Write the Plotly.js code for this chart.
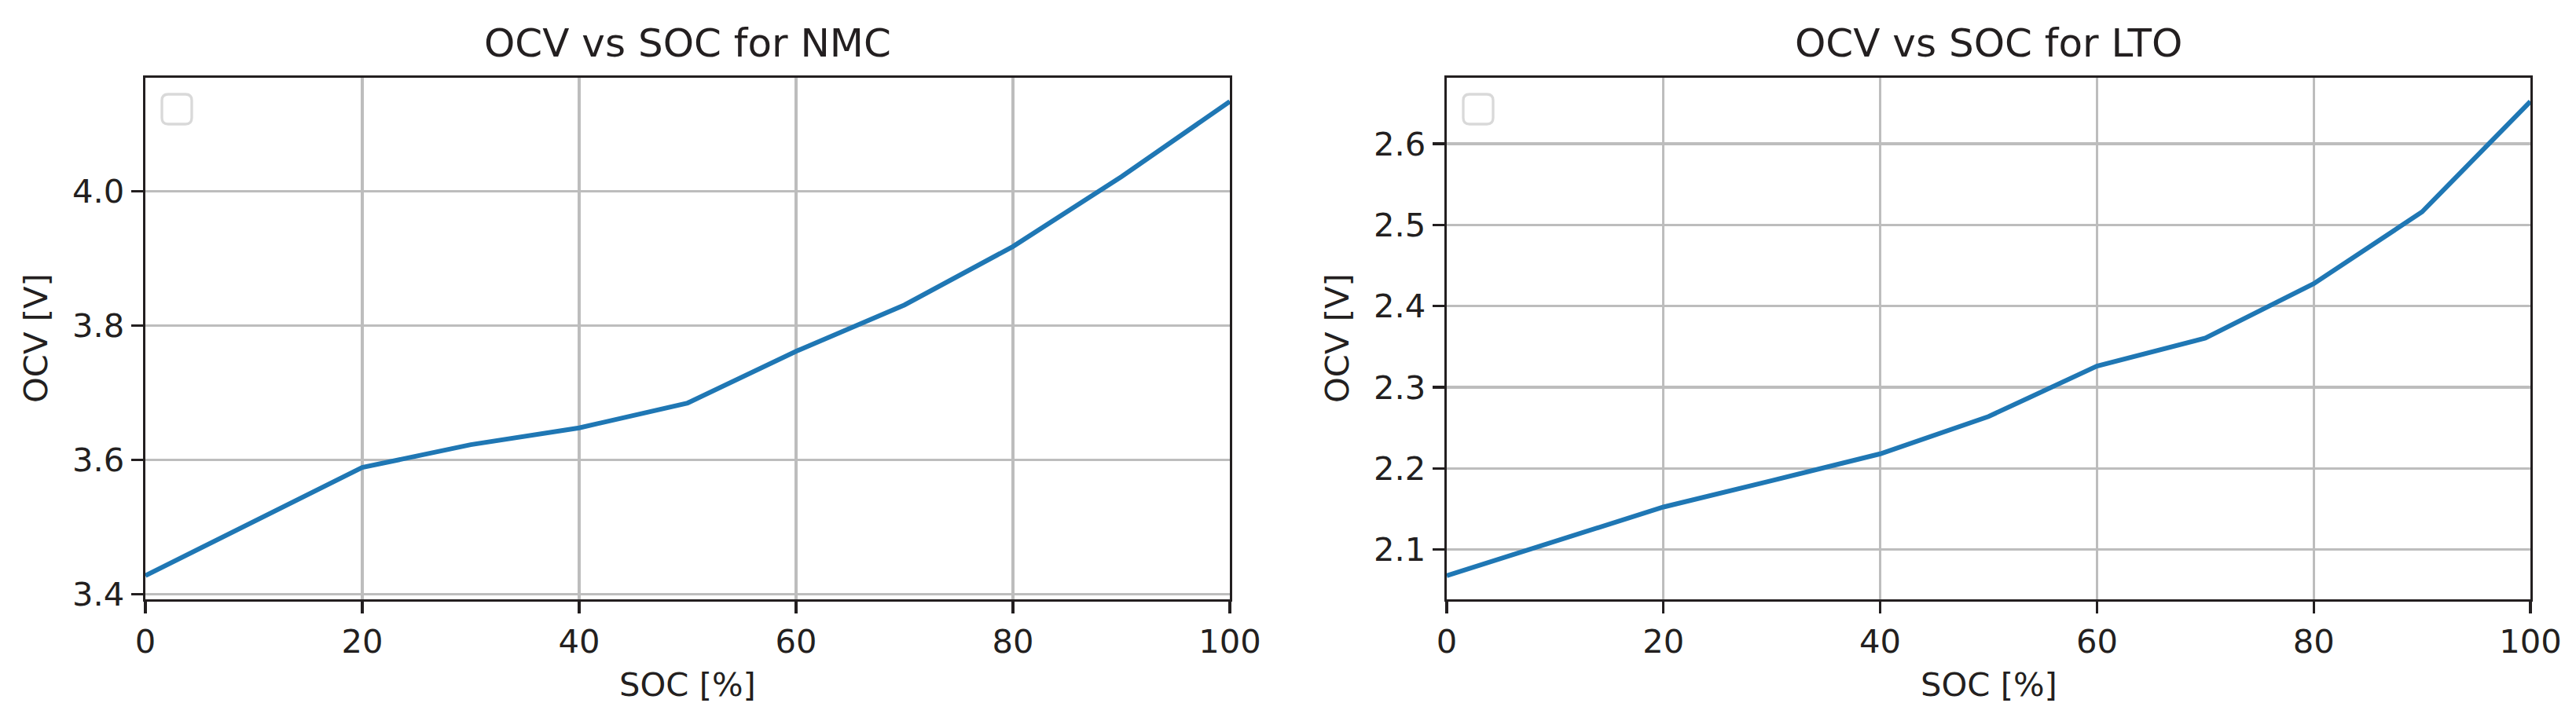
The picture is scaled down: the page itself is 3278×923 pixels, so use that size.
<!DOCTYPE html>
<html>
<head>
<meta charset="utf-8">
<script src="https://cdn.plot.ly/plotly-3.0.1.min.js"></script>
<style>html,body{margin:0;padding:0;background:#fff;}#chart{width:3278px;height:923px;}</style>
</head>
<body>
<div id="chart"></div>
<script>
// ---- data ----
const soc = [0, 10, 20, 30, 40, 50, 60, 70, 80, 90, 100];
const nmcOcv = [3.428, 3.509, 3.589, 3.623, 3.648, 3.685, 3.762, 3.831, 3.918, 4.022, 4.134];
const ltoOcv = [2.068, 2.111, 2.1525, 2.185, 2.218, 2.264, 2.326, 2.3605, 2.4275, 2.516, 2.652];
const titles = ["OCV vs SOC for NMC", "OCV vs SOC for LTO"];
const xLabel = "SOC [%]";
const yLabel = "OCV [V]";
const xTicks = [0, 20, 40, 60, 80, 100];
const nmcTicks = [3.4, 3.6, 3.8, 4.0];
const ltoTicks = [2.1, 2.2, 2.3, 2.4, 2.5, 2.6];

// ---- styling ----
const FONT = "DejaVu Sans";
const INK = "#231f20";
const GRID = "#bdbdbd";
const BLUE = "#1f77b4";
const TICK_SIZE = 41.7;
const TITLE_SIZE = 50;
const W = 3278, H = 923;

function autoRange(v) {
  const lo = Math.min(...v), hi = Math.max(...v), m = 0.05 * (hi - lo);
  return [lo - m, hi + m];
}

function xAxis(domain, anchor) {
  return {
    domain: domain, anchor: anchor, range: [0, 100],
    tickmode: "array", tickvals: xTicks, ticktext: xTicks.map(String),
    showgrid: true, gridcolor: GRID, gridwidth: 3.3,
    showline: true, mirror: true, linecolor: INK, linewidth: 3.3,
    ticks: "outside", ticklen: 15, tickwidth: 3.3, tickcolor: INK,
    tickfont: {family: FONT, size: TICK_SIZE, color: INK},
    zeroline: false, fixedrange: true
  };
}
function yAxis(domain, anchor, ticks, data) {
  return {
    domain: domain, anchor: anchor, range: autoRange(data),
    tickmode: "array", tickvals: ticks, ticktext: ticks.map(t => t.toFixed(1)),
    showgrid: true, gridcolor: GRID, gridwidth: 3.3,
    showline: true, mirror: true, linecolor: INK, linewidth: 3.3,
    ticks: "outside", ticklen: 15, tickwidth: 3.3, tickcolor: INK,
    tickfont: {family: FONT, size: TICK_SIZE, color: INK},
    zeroline: false, fixedrange: true
  };
}

const yDom = [1 - 763 / H, 1 - 99 / H];
const x1Dom = [185 / W, 1565 / W];
const x2Dom = [1841 / W, 3220 / W];

const traces = [
  {x: soc, y: nmcOcv, xaxis: "x", yaxis: "y", type: "scatter", mode: "lines",
   line: {color: BLUE, width: 6}, hoverinfo: "skip"},
  {x: soc, y: ltoOcv, xaxis: "x2", yaxis: "y2", type: "scatter", mode: "lines",
   line: {color: BLUE, width: 6}, hoverinfo: "skip"}
];

function roundRect(l, t, r, b, rad) {
  // pixel coords, y positive upward (t > b)
  return `M${l + rad},${t} L${r - rad},${t} Q${r},${t} ${r},${t - rad} L${r},${b + rad} Q${r},${b} ${r - rad},${b} L${l + rad},${b} Q${l},${b} ${l},${b + rad} L${l},${t - rad} Q${l},${t} ${l + rad},${t} Z`;
}
function emptyLegend(xs, ys) {
  return {
    type: "path", xref: xs + " domain", yref: ys + " domain",
    xsizemode: "pixel", ysizemode: "pixel", xanchor: 0, yanchor: 1,
    path: roundRect(21, -21, 59, -59, 8),
    line: {color: "#d9d9d9", width: 3.3}, fillcolor: "rgba(255,255,255,0.8)", layer: "above"
  };
}

function annots(xs, ys, title) {
  return [
    {xref: xs + " domain", yref: ys + " domain", x: 0.5, y: 1, yshift: 44,
     xanchor: "center", yanchor: "middle", showarrow: false, text: title,
     font: {family: FONT, size: TITLE_SIZE, color: INK}},
    {xref: xs + " domain", yref: ys + " domain", x: 0.5, y: 0, yshift: -109,
     xanchor: "center", yanchor: "middle", showarrow: false, text: xLabel,
     font: {family: FONT, size: TICK_SIZE, color: INK}},
    {xref: xs + " domain", yref: ys + " domain", x: 0, y: 0.5, xshift: -140,
     xanchor: "center", yanchor: "middle", showarrow: false, text: yLabel, textangle: -90,
     font: {family: FONT, size: TICK_SIZE, color: INK}}
  ];
}

const layout = {
  width: W, height: H,
  margin: {l: 0, r: 0, t: 0, b: 0, pad: 0},
  paper_bgcolor: "#ffffff", plot_bgcolor: "#ffffff",
  showlegend: false,
  font: {family: FONT, color: INK},
  xaxis: xAxis(x1Dom, "y"),
  yaxis: yAxis(yDom, "x", nmcTicks, nmcOcv),
  xaxis2: xAxis(x2Dom, "y2"),
  yaxis2: yAxis(yDom, "x2", ltoTicks, ltoOcv),
  shapes: [emptyLegend("x", "y"), emptyLegend("x2", "y2")],
  annotations: annots("x", "y", titles[0]).concat(annots("x2", "y2", titles[1]))
};

Plotly.newPlot("chart", traces, layout, {staticPlot: true, displayModeBar: false});
</script>
</body>
</html>
